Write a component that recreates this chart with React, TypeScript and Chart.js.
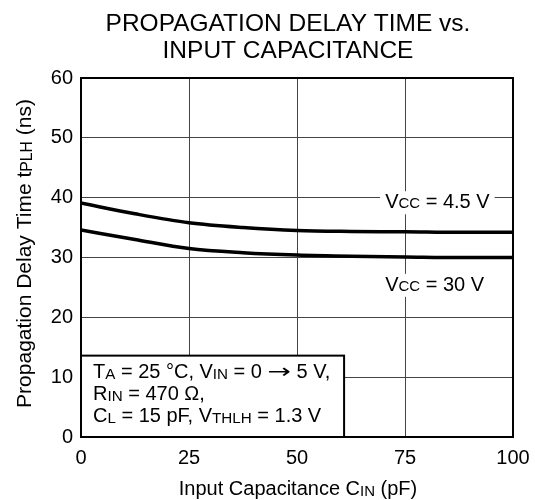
import React, { useEffect, useRef } from "react";
import { Chart, registerables } from "chart.js";

Chart.register(...registerables);

// ---- data ----
const capacitance = [0, 12.5, 25, 37.5, 50, 62.5, 75, 87.5, 100];
const delayVcc45 = [39.1, 37.3, 35.8, 35.0, 34.5, 34.35, 34.3, 34.2, 34.2];
const delayVcc30 = [34.6, 33.0, 31.5, 30.8, 30.4, 30.2, 30.1, 30.0, 30.0];
const xTicks = [0, 25, 50, 75, 100];
const yTicks = [0, 10, 20, 30, 40, 50, 60];
const titleLines = ["PROPAGATION DELAY TIME vs.", "INPUT CAPACITANCE"];

const FONT = '"Liberation Sans", Arial, Helvetica, sans-serif';
const ARROW_FONT = '"DejaVu Sans", sans-serif';

type Part = { t: string; sub?: boolean; f?: string; sx?: number };

function fontFor(p: Part, size: number, subScale: number) {
  return `${p.sub ? size * subScale : size}px ${p.f || FONT}`;
}

function richWidth(ctx: CanvasRenderingContext2D, parts: Part[], size: number, subScale: number) {
  let w = 0;
  for (const p of parts) {
    ctx.font = fontFor(p, size, subScale);
    w += ctx.measureText(p.t).width * (p.sx || 1);
  }
  return w;
}

function drawRich(
  ctx: CanvasRenderingContext2D,
  parts: Part[],
  x: number,
  y: number,
  size: number,
  align: "left" | "center" = "left",
  subScale = 0.75,
  subDrop = 1
) {
  const w = richWidth(ctx, parts, size, subScale);
  let cx = align === "center" ? x - w / 2 : x;
  ctx.textAlign = "left";
  ctx.textBaseline = "alphabetic";
  for (const p of parts) {
    ctx.font = fontFor(p, size, subScale);
    const yy = p.sub ? y + subDrop : y;
    const sx = p.sx || 1;
    if (sx !== 1) {
      ctx.save();
      ctx.translate(cx, yy);
      ctx.scale(sx, 1);
      ctx.fillText(p.t, 0, 0);
      ctx.restore();
    } else {
      ctx.fillText(p.t, cx, yy);
    }
    cx += ctx.measureText(p.t).width * sx;
  }
  return w;
}

const decorPlugin = {
  id: "decor",
  afterDatasetsDraw(chart: any) {
    const ctx: CanvasRenderingContext2D = chart.ctx;
    const { left, right, top, bottom } = chart.chartArea;
    const xs = chart.scales.x;
    const ys = chart.scales.y;
    ctx.save();
    ctx.fillStyle = "#000";

    // curve labels with white backgrounds
    const labels: { parts: Part[]; x: number; y: number }[] = [
      { parts: [{ t: "V" }, { t: "CC", sub: true }, { t: " = 4.5 V" }], x: 70.4, y: 39.4 },
      { parts: [{ t: "V" }, { t: "CC", sub: true }, { t: " = 30 V" }], x: 70.4, y: 25.6 },
    ];
    for (const l of labels) {
      const px = xs.getPixelForValue(l.x);
      const py = ys.getPixelForValue(l.y);
      const w = richWidth(ctx, l.parts, 20, 0.75);
      ctx.fillStyle = "#fff";
      ctx.fillRect(px - 5, py - 10, w + 10, 23);
      ctx.fillStyle = "#000";
      drawRich(ctx, l.parts, px, py + 7, 20, "left", 0.75, 0);
    }

    // condition box
    const bx0 = left;
    const bx1 = xs.getPixelForValue(60.9);
    const by0 = ys.getPixelForValue(13.6);
    const by1 = bottom;
    ctx.fillStyle = "#fff";
    ctx.fillRect(bx0, by0, bx1 - bx0, by1 - by0);
    ctx.strokeStyle = "#000";
    ctx.lineWidth = 2;
    ctx.strokeRect(bx0, by0, bx1 - bx0, by1 - by0);
    ctx.fillStyle = "#000";
    const lines: Part[][] = [
      [
        { t: "T" },
        { t: "A", sub: true },
        { t: " = 25 °C, V" },
        { t: "IN", sub: true },
        { t: " = 0 " },
        { t: "→", f: ARROW_FONT, sx: 1.4 },
        { t: " 5 V," },
      ],
      [{ t: "R" }, { t: "IN", sub: true }, { t: " = 470 Ω," }],
      [{ t: "C" }, { t: "L", sub: true }, { t: " = 15 pF, V" }, { t: "THLH", sub: true }, { t: " = 1.3 V" }],
    ];
    lines.forEach((ln, i) => {
      drawRich(ctx, ln, bx0 + 12, by0 + 22.5 + i * 21.7, 20, "left", 0.76, 1);
    });

    // frame
    ctx.strokeStyle = "#000";
    ctx.lineWidth = 2;
    ctx.strokeRect(left, top, right - left, bottom - top);

    // title
    ctx.fillStyle = "#000";
    ctx.textAlign = "center";
    ctx.textBaseline = "alphabetic";
    ctx.font = `24.5px ${FONT}`;
    ctx.fillText(titleLines[0], 288, 31);
    ctx.fillText(titleLines[1], 288, 58);

    // x axis title
    drawRich(
      ctx,
      [{ t: "Input Capacitance C" }, { t: "IN", sub: true }, { t: " (pF)" }],
      (left + right) / 2 + 1,
      495,
      20,
      "center",
      0.75,
      1
    );

    // y axis title (rotated)
    ctx.save();
    ctx.translate(31, (top + bottom) / 2 - 4);
    ctx.rotate(-Math.PI / 2);
    drawRich(
      ctx,
      [{ t: "Propagation Delay Time t" }, { t: "PLH", sub: true }, { t: " (ns)" }],
      0,
      0,
      21,
      "center",
      0.75,
      1
    );
    ctx.restore();

    ctx.restore();
  },
};

function zeroPad(s: any) {
  s.paddingLeft = 0;
  s.paddingRight = 0;
  s.paddingTop = 0;
  s.paddingBottom = 0;
}

export default function App() {
  const ref = useRef<HTMLCanvasElement | null>(null);
  useEffect(() => {
    if (!ref.current) return;
    const chart = new Chart(ref.current, {
      type: "line",
      data: {
        datasets: [
          {
            label: "VCC = 4.5 V",
            data: capacitance.map((x, i) => ({ x, y: delayVcc45[i] })),
            borderColor: "#000",
            borderWidth: 3.5,
            pointRadius: 0,
            cubicInterpolationMode: "monotone",
            fill: false,
          },
          {
            label: "VCC = 30 V",
            data: capacitance.map((x, i) => ({ x, y: delayVcc30[i] })),
            borderColor: "#000",
            borderWidth: 3.5,
            pointRadius: 0,
            cubicInterpolationMode: "monotone",
            fill: false,
          },
        ],
      },
      options: {
        responsive: false,
        animation: false,
        events: [],
        layout: { padding: { left: 0, top: 78, right: 22, bottom: 0 } },
        plugins: { legend: { display: false }, tooltip: { enabled: false }, title: { display: false } },
        scales: {
          x: {
            type: "linear",
            min: 0,
            max: 100,
            afterFit: (s: any) => {
              s.height = 63;
              zeroPad(s);
            },
            afterBuildTicks: (s: any) => {
              s.ticks = xTicks.map((v) => ({ value: v }));
            },
            ticks: {
              color: "#000",
              font: { family: FONT, size: 20 },
              padding: 9,
              maxRotation: 0,
              autoSkip: false,
            },
            grid: { color: "#444", lineWidth: 1, drawTicks: false },
            border: { display: false },
          },
          y: {
            type: "linear",
            min: 0,
            max: 60,
            afterFit: (s: any) => {
              s.width = 81;
              zeroPad(s);
            },
            afterBuildTicks: (s: any) => {
              s.ticks = yTicks.map((v) => ({ value: v }));
            },
            ticks: {
              color: "#000",
              font: { family: FONT, size: 20 },
              padding: 8,
              autoSkip: false,
            },
            grid: { color: "#444", lineWidth: 1, drawTicks: false },
            border: { display: false },
          },
        },
      } as any,
      plugins: [decorPlugin],
    });
    return () => chart.destroy();
  }, []);
  return (
    <div style={{ position: "fixed", left: 0, top: 0, width: 535, height: 500, background: "#fff" }}>
      <canvas ref={ref} width={535} height={500} style={{ width: 535, height: 500, display: "block" }} />
    </div>
  );
}
